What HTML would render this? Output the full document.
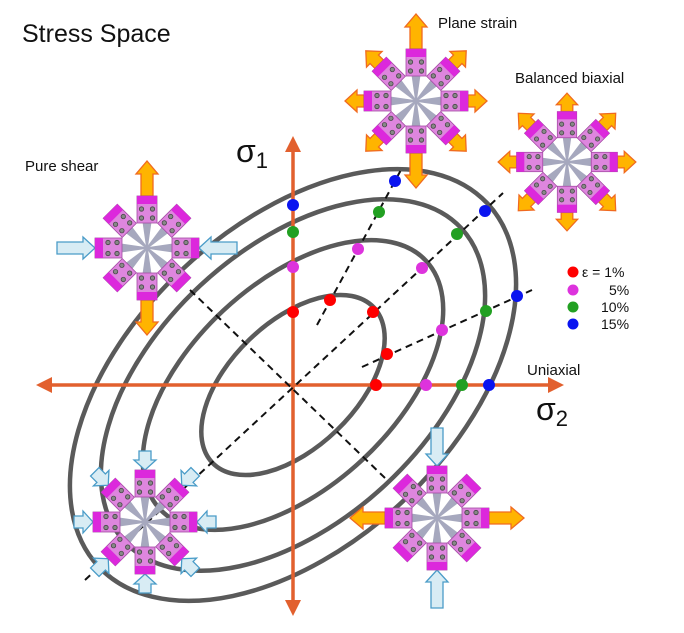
<!DOCTYPE html>
<html><head><meta charset="utf-8"><style>
html,body{margin:0;padding:0;background:#fff;overflow:hidden;width:684px;height:633px;}
svg{display:block;position:absolute;left:0;top:0;}
text{font-family:"Liberation Sans","DejaVu Sans",sans-serif;fill:#111;}
</style></head><body>
<svg width="684" height="633" viewBox="0 0 684 633" xmlns="http://www.w3.org/2000/svg" overflow="hidden">
<defs>
<g id="arm">
  <polygon points="0,-0.8 26,-4.5 26,4.5 0,0.8" fill="#a6a8be"/>
  <rect x="25" y="-10" width="27" height="20" fill="#de86de" stroke="#a44aa4" stroke-width="0.8"/>
  <rect x="44" y="-10" width="8" height="20" fill="#dc28dc"/>
  <circle cx="30" cy="-5.5" r="2.2" fill="#888" stroke="#444" stroke-width="0.8"/>
  <circle cx="30" cy="5.5" r="2.2" fill="#888" stroke="#444" stroke-width="0.8"/>
  <circle cx="39" cy="-5.5" r="2.2" fill="#888" stroke="#444" stroke-width="0.8"/>
  <circle cx="39" cy="5.5" r="2.2" fill="#888" stroke="#444" stroke-width="0.8"/>
</g>
<polygon id="oL" points="52,-6 74,-6 74,-11 87,0 74,11 74,6 52,6" fill="#ffb400" stroke="#f06a20" stroke-width="1.3"/>
<polygon id="oS" points="52,-6 59,-6 59,-11 71,0 59,11 59,6 52,6" fill="#ffb400" stroke="#f06a20" stroke-width="1.3"/>
<polygon id="iL" points="52,0 64,-11 64,-6 90,-6 90,6 64,6 64,11" fill="#d8ecf4" stroke="#4a9cc8" stroke-width="1.3"/>
<polygon id="iS" points="52,0 62,-11 62,-6 71,-6 71,6 62,6 62,11" fill="#d8ecf4" stroke="#4a9cc8" stroke-width="1.3"/>
</defs>

<g fill="none" stroke="#5a5a5a" stroke-width="4.5">
<ellipse cx="293" cy="385" rx="112" ry="63" transform="rotate(-44 293 385)"/>
<ellipse cx="293" cy="385" rx="182" ry="102" transform="rotate(-43 293 385)"/>
<ellipse cx="293" cy="385" rx="230" ry="136" transform="rotate(-43 293 385)"/>
<ellipse cx="293" cy="385" rx="266" ry="160" transform="rotate(-43 293 385)"/>
</g>

<g stroke="#e2602e" stroke-width="3.5" fill="#e2602e">
<line x1="48" y1="385" x2="552" y2="385"/>
<polygon points="36,385 52,377 52,393" stroke="none"/>
<polygon points="564,385 548,377 548,393" stroke="none"/>
<line x1="293" y1="148" x2="293" y2="604"/>
<polygon points="293,136 285,152 301,152" stroke="none"/>
<polygon points="293,616 285,600 301,600" stroke="none"/>
</g>

<g stroke="#111" stroke-width="2" stroke-dasharray="7,5" fill="none">
<line x1="85" y1="580" x2="503" y2="193"/>
<line x1="190" y1="290" x2="385" y2="478"/>
<line x1="317" y1="325" x2="402" y2="168"/>
<line x1="362" y1="367" x2="532" y2="290"/>
</g>

<g>
<circle cx="293" cy="312" r="6" fill="#f00"/><circle cx="330" cy="300" r="6" fill="#f00"/><circle cx="373" cy="312" r="6" fill="#f00"/><circle cx="387" cy="354" r="6" fill="#f00"/><circle cx="376" cy="385" r="6" fill="#f00"/>
<circle cx="293" cy="267" r="6" fill="#dd33dd"/><circle cx="358" cy="249" r="6" fill="#dd33dd"/><circle cx="422" cy="268" r="6" fill="#dd33dd"/><circle cx="442" cy="330" r="6" fill="#dd33dd"/><circle cx="426" cy="385" r="6" fill="#dd33dd"/>
<circle cx="293" cy="232" r="6" fill="#22a022"/><circle cx="379" cy="212" r="6" fill="#22a022"/><circle cx="457" cy="234" r="6" fill="#22a022"/><circle cx="486" cy="311" r="6" fill="#22a022"/><circle cx="462" cy="385" r="6" fill="#22a022"/>
<circle cx="293" cy="205" r="6" fill="#0a14f0"/><circle cx="395" cy="181" r="6" fill="#0a14f0"/><circle cx="485" cy="211" r="6" fill="#0a14f0"/><circle cx="517" cy="296" r="6" fill="#0a14f0"/><circle cx="489" cy="385" r="6" fill="#0a14f0"/>
</g>

<circle cx="573" cy="272" r="5.5" fill="#f00"/>
<circle cx="573" cy="290" r="5.5" fill="#dd33dd"/>
<circle cx="573" cy="307" r="5.5" fill="#22a022"/>
<circle cx="573" cy="324" r="5.5" fill="#0a14f0"/>
<text x="582" y="277" font-size="14">ε = 1%</text>
<text x="609" y="295" font-size="14">5%</text>
<text x="601" y="312" font-size="14">10%</text>
<text x="601" y="329" font-size="14">15%</text>

<text x="22" y="42" font-size="25">Stress Space</text>
<text x="438" y="28" font-size="15">Plane strain</text>
<text x="515" y="83" font-size="15">Balanced biaxial</text>
<text x="25" y="171" font-size="15">Pure shear</text>
<text x="527" y="375" font-size="15">Uniaxial</text>
<text x="236" y="162" font-size="32">σ<tspan font-size="22" dy="6">1</tspan></text>
<text x="536" y="420" font-size="32">σ<tspan font-size="22" dy="6">2</tspan></text>

<g transform="translate(416,101)">
<use href="#oL" transform="rotate(-90)"/><use href="#oL" transform="rotate(90)"/>
<use href="#oS" transform="rotate(0)"/><use href="#oS" transform="rotate(180)"/>
<use href="#oS" transform="rotate(45)"/><use href="#oS" transform="rotate(135)"/><use href="#oS" transform="rotate(-45)"/><use href="#oS" transform="rotate(-135)"/>
<use href="#arm" transform="rotate(0)"/><use href="#arm" transform="rotate(45)"/><use href="#arm" transform="rotate(90)"/><use href="#arm" transform="rotate(135)"/><use href="#arm" transform="rotate(180)"/><use href="#arm" transform="rotate(225)"/><use href="#arm" transform="rotate(270)"/><use href="#arm" transform="rotate(315)"/>
</g>

<g transform="translate(567,162) scale(0.97)">
<use href="#oS" transform="rotate(0)"/><use href="#oS" transform="rotate(45)"/><use href="#oS" transform="rotate(90)"/><use href="#oS" transform="rotate(135)"/><use href="#oS" transform="rotate(180)"/><use href="#oS" transform="rotate(225)"/><use href="#oS" transform="rotate(270)"/><use href="#oS" transform="rotate(315)"/>
<use href="#arm" transform="rotate(0)"/><use href="#arm" transform="rotate(45)"/><use href="#arm" transform="rotate(90)"/><use href="#arm" transform="rotate(135)"/><use href="#arm" transform="rotate(180)"/><use href="#arm" transform="rotate(225)"/><use href="#arm" transform="rotate(270)"/><use href="#arm" transform="rotate(315)"/>
</g>

<g transform="translate(147,248)">
<use href="#oL" transform="rotate(-90)"/><use href="#oL" transform="rotate(90)"/>
<use href="#iL" transform="rotate(0)"/><use href="#iL" transform="rotate(180)"/>
<use href="#arm" transform="rotate(0)"/><use href="#arm" transform="rotate(45)"/><use href="#arm" transform="rotate(90)"/><use href="#arm" transform="rotate(135)"/><use href="#arm" transform="rotate(180)"/><use href="#arm" transform="rotate(225)"/><use href="#arm" transform="rotate(270)"/><use href="#arm" transform="rotate(315)"/>
</g>

<g transform="translate(145,522)">
<use href="#iS" transform="rotate(0)"/><use href="#iS" transform="rotate(45)"/><use href="#iS" transform="rotate(90)"/><use href="#iS" transform="rotate(135)"/><use href="#iS" transform="rotate(180)"/><use href="#iS" transform="rotate(225)"/><use href="#iS" transform="rotate(270)"/><use href="#iS" transform="rotate(315)"/>
<use href="#arm" transform="rotate(0)"/><use href="#arm" transform="rotate(45)"/><use href="#arm" transform="rotate(90)"/><use href="#arm" transform="rotate(135)"/><use href="#arm" transform="rotate(180)"/><use href="#arm" transform="rotate(225)"/><use href="#arm" transform="rotate(270)"/><use href="#arm" transform="rotate(315)"/>
</g>

<g transform="translate(437,518)">
<use href="#iL" transform="rotate(-90)"/><use href="#iL" transform="rotate(90)"/>
<use href="#oL" transform="rotate(0)"/><use href="#oL" transform="rotate(180)"/>
<use href="#arm" transform="rotate(0)"/><use href="#arm" transform="rotate(45)"/><use href="#arm" transform="rotate(90)"/><use href="#arm" transform="rotate(135)"/><use href="#arm" transform="rotate(180)"/><use href="#arm" transform="rotate(225)"/><use href="#arm" transform="rotate(270)"/><use href="#arm" transform="rotate(315)"/>
</g>
</svg>
</body></html>
